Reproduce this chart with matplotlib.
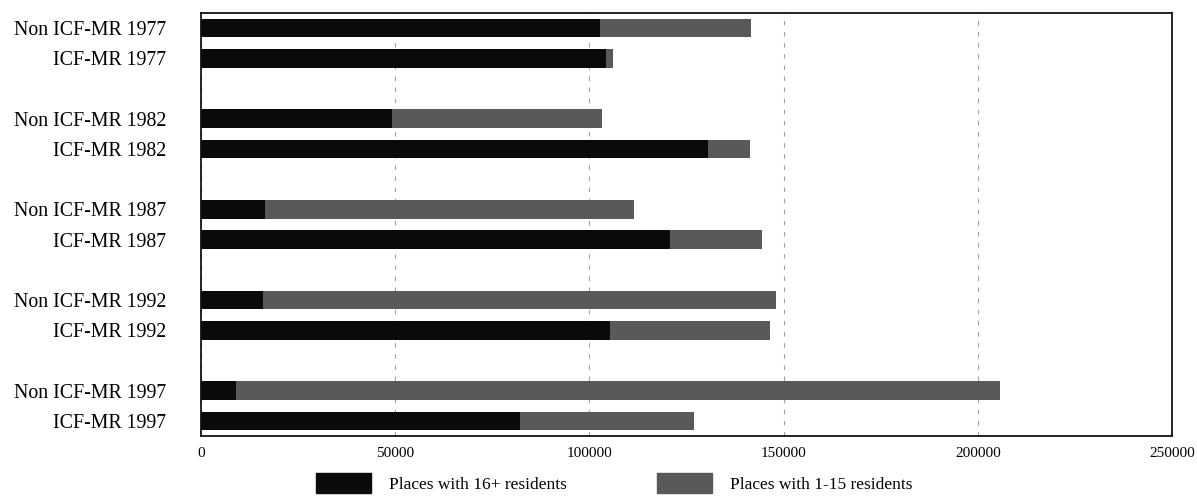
import matplotlib
matplotlib.use("Agg")
import matplotlib.pyplot as plt
from matplotlib.patches import Patch

categories = ["Non ICF-MR 1977", "ICF-MR 1977",
              "Non ICF-MR 1982", "ICF-MR 1982",
              "Non ICF-MR 1987", "ICF-MR 1987",
              "Non ICF-MR 1992", "ICF-MR 1992",
              "Non ICF-MR 1997", "ICF-MR 1997"]
places_16plus = [102700, 104300, 49200, 130500, 16500, 120700, 16000, 105300, 9000, 82100]
places_1_15 = [38900, 1800, 54000, 10900, 95000, 23700, 132000, 41200, 196700, 44900]
series_names = ["Places with 16+ residents", "Places with 1-15 residents"]
x_ticks = [0, 50000, 100000, 150000, 200000, 250000]

plt.rcParams['font.family'] = ['Liberation Serif', 'DejaVu Serif']

fig = plt.figure(figsize=(11.97, 5.0), dpi=100)
ax = fig.add_axes([201/1197, 1-436/500, (1172-201)/1197, (436-13)/500])

pos = []
for g in range(5):
    pos += [3*g, 3*g+1]

black = "#0a0a0a"
gray = "#595959"
h = 0.62
ax.barh(pos, places_16plus, height=h, color=black, zorder=3)
ax.barh(pos, places_1_15, left=places_16plus, height=h, color=gray, zorder=3)

ax.set_ylim(13.5, -0.5)
ax.set_xlim(0, 250000)
ax.set_yticks(pos)
ax.set_yticklabels(categories, fontsize=14.3)
ax.set_xticks(x_ticks)
ax.set_xticklabels([str(t) for t in x_ticks], fontsize=11)
ax.tick_params(axis='y', length=0, pad=25)
ax.tick_params(axis='x', length=0, pad=8)
ax.grid(axis='x', linestyle=(0, (4, 6)), color="#a0a0a0", linewidth=0.8, zorder=0)
for s in ax.spines.values():
    s.set_color("black")
    s.set_linewidth(1.2)

handles = [Patch(facecolor=black, edgecolor=black), Patch(facecolor=gray, edgecolor=gray)]
fig.legend(handles, series_names, loc='center', bbox_to_anchor=(614/1197, 1-483/500),
           ncol=2, frameon=False, fontsize=12.5, handlelength=3.2, handleheight=1.4,
           handletextpad=1.0, columnspacing=5.2)

fig.savefig("out.png", dpi=100)
